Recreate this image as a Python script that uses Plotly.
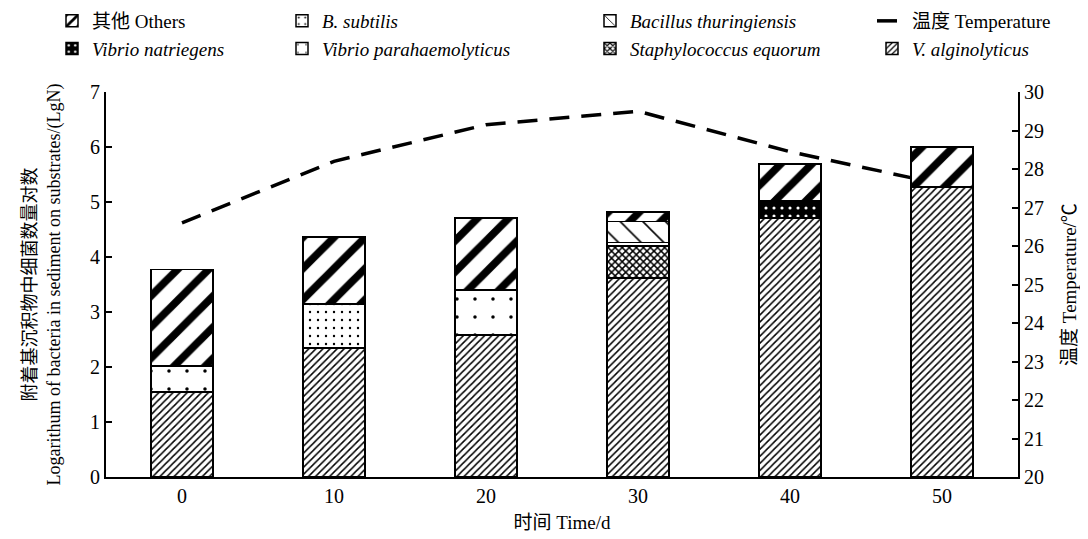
import plotly.graph_objects as go

days = ["0", "10", "20", "30", "40", "50"]

v_alginolyticus = [1.55, 2.35, 2.58, 3.62, 4.71, 5.27]
v_parahaemolyticus = [0.47, 0, 0.82, 0, 0, 0]
s_equorum = [0, 0, 0, 0.58, 0, 0]
b_subtilis = [0, 0.80, 0, 0.06, 0, 0]
b_thuringiensis = [0, 0, 0, 0.39, 0, 0]
v_natriegens = [0, 0, 0, 0, 0.31, 0]
others = [1.75, 1.21, 1.31, 0.17, 0.67, 0.73]

temperature = [26.6, 28.2, 29.15, 29.5, 28.45, 27.6]

FONT = "Liberation Serif, Times New Roman, Noto Sans CJK SC, serif"


def nz(vals):
    return [v if v else None for v in vals]


fig = go.Figure()

# Temperature line on the primary (right-side) axis so that bars overlay it
fig.add_trace(go.Scatter(
    x=days, y=temperature, mode="lines", name="温度 Temperature",
    line=dict(color="black", width=3.5, dash="20px,12px"),
    xaxis="x", yaxis="y", legend="legend4",
))

bar_specs = [
    (v_alginolyticus, "<i>V. alginolyticus</i>", dict(shape="/", size=5, solidity=0.3, fgcolor="black", bgcolor="white"), "legend4"),
    (v_parahaemolyticus, "<i>Vibrio parahaemolyticus</i>", dict(shape=".", size=18, solidity=0.03, fgcolor="black", bgcolor="white"), "legend2"),
    (s_equorum, "<i>Staphylococcus equorum</i>", dict(shape="x", size=5, solidity=0.5, fgcolor="black", bgcolor="white"), "legend3"),
    (b_subtilis, "<i>B. subtilis</i>", dict(shape=".", size=8, solidity=0.07, fgcolor="black", bgcolor="white"), "legend2"),
    (b_thuringiensis, "<i>Bacillus thuringiensis</i>", dict(shape="\\", size=16, solidity=0.1, fgcolor="black", bgcolor="white"), "legend3"),
    (v_natriegens, "<i>Vibrio natriegens</i>", dict(shape=".", size=8, solidity=0.12, fgcolor="white", bgcolor="black"), "legend"),
    (others, "其他 Others", dict(shape="/", size=22, solidity=0.35, fgcolor="black", bgcolor="white"), "legend"),
]

for vals, name, pat, lg in bar_specs:
    pat = dict(pat)
    pat["fillmode"] = "replace"
    fig.add_trace(go.Bar(
        x=days, y=nz(vals), name=name, width=0.41,
        marker=dict(color=pat["bgcolor"], pattern=pat, line=dict(color="black", width=1.5)),
        xaxis="x", yaxis="y2", legend=lg,
    ))

# page body adds an 8px offset, so the figure is drawn 8px smaller/shifted
OFF = 8
W, H = 1088 - OFF, 539 - OFF
PX_L, PX_R = 106 - OFF, 1018 - OFF
PW = PX_R - PX_L
PT, PB = 92 - OFF, 477 - OFF
PH = PB - PT


def lx(px):
    return (px - OFF - PX_L) / PW


def ly(py):
    return 1 + (PT - (py - OFF)) / PH


legend_common = dict(
    orientation="v", xanchor="left", yanchor="top",
    font=dict(family=FONT, size=19, color="black"),
    bgcolor="rgba(0,0,0,0)", tracegroupgap=0, itemwidth=30,
)

fig.update_layout(
    width=W, height=H,
    margin=dict(l=PX_L, r=W - PX_R, t=PT, b=H - PB, autoexpand=False),
    paper_bgcolor="white", plot_bgcolor="white",
    barmode="stack", bargap=0.59,
    font=dict(family=FONT, size=20, color="black"),
    xaxis=dict(
        type="category", showline=True, linecolor="black", linewidth=2,
        ticks="", showgrid=False, zeroline=False, automargin=False,
        tickfont=dict(size=20),
        title=dict(text="时间 Time/d", font=dict(size=19), standoff=10),
    ),
    yaxis=dict(
        side="right", range=[20, 30], dtick=1, automargin=False,
        showline=True, linecolor="black", linewidth=2,
        ticks="inside", ticklen=6, tickwidth=2, tickcolor="black",
        showgrid=False, zeroline=False, tickfont=dict(size=20),
        title=dict(text="温度 Temperature/℃", font=dict(size=19), standoff=20),
    ),
    yaxis2=dict(
        side="left", overlaying="y", range=[0, 7], dtick=1, automargin=False,
        showline=True, linecolor="black", linewidth=2,
        ticks="inside", ticklen=6, tickwidth=2, tickcolor="black",
        showgrid=False, zeroline=False, tickfont=dict(size=20),
        title=dict(text="附着基沉积物中细菌数量对数<br>Logarithum of bacteria in sediment on substrates/(LgN)",
                   font=dict(size=18), standoff=25),
    ),
    legend=dict(x=lx(52), y=ly(2), traceorder="reversed", **legend_common),
    legend2=dict(x=lx(282), y=ly(2), traceorder="reversed", **legend_common),
    legend3=dict(x=lx(590), y=ly(2), traceorder="reversed", **legend_common),
    legend4=dict(x=lx(872), y=ly(2), traceorder="normal", **legend_common),
)

fig.write_html("out.html")
